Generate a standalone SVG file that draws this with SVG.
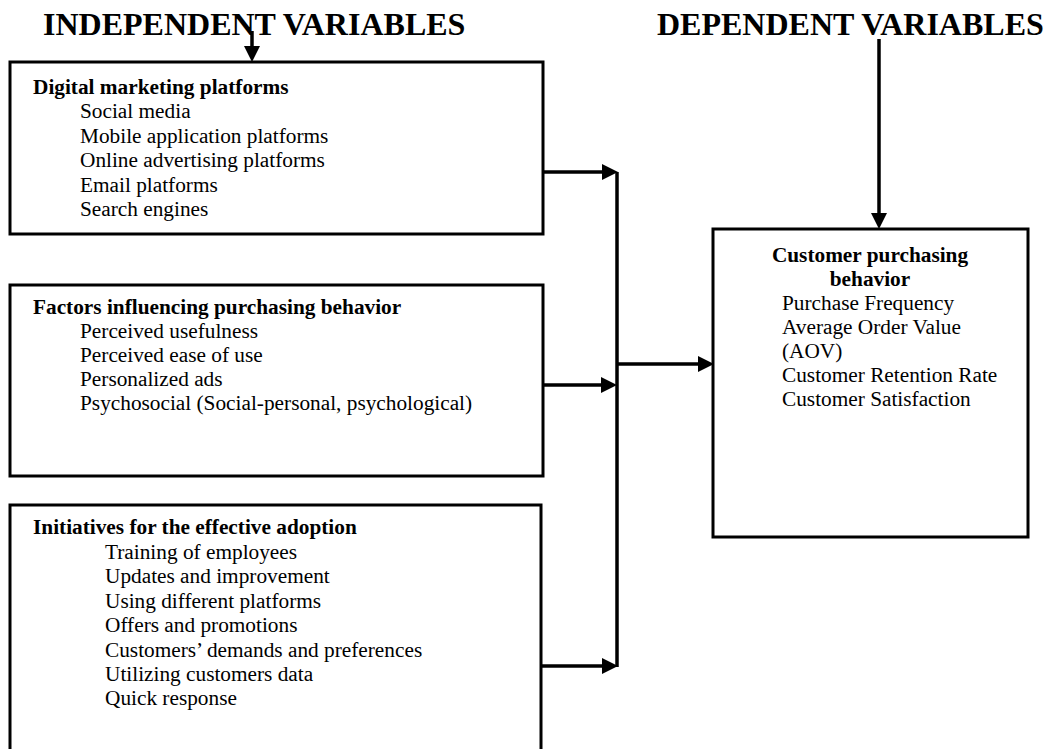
<svg xmlns="http://www.w3.org/2000/svg" width="1055" height="749" viewBox="0 0 1055 749">
<style>
  .box { fill: #ffffff; stroke: #000000; stroke-width: 3; }
  .title { font-family: "Liberation Serif", "Times New Roman", serif; font-size: 32px; font-weight: bold; fill: #000; }
  .head { font-family: "Liberation Serif", "Times New Roman", serif; font-size: 21.3px; font-weight: bold; fill: #000; }
  .item { font-family: "Liberation Serif", "Times New Roman", serif; font-size: 21.3px; fill: #000; }
  .conn { stroke: #000; stroke-width: 3.5; fill: none; }
</style>
<defs>
  <marker id="ah" markerUnits="userSpaceOnUse" markerWidth="18" markerHeight="18" refX="3" refY="8" orient="auto">
    <path d="M0,0 L16,8 L0,16 Z" fill="#000"/>
  </marker>
</defs>
<rect width="1055" height="749" fill="#ffffff"/>

<g id="titles">
  <text class="title" x="43" y="35">INDEPENDENT VARIABLES</text>
  <text class="title" x="657" y="35">DEPENDENT VARIABLES</text>
</g>

<g id="node-digital">
  <rect class="box" x="10" y="62" width="533" height="172"/>
  <text class="head" x="33" y="94">Digital marketing platforms</text>
  <text class="item" x="80" y="118">Social media</text>
  <text class="item" x="80" y="143">Mobile application platforms</text>
  <text class="item" x="80" y="167">Online advertising platforms</text>
  <text class="item" x="80" y="192">Email platforms</text>
  <text class="item" x="80" y="216">Search engines</text>
</g>

<g id="node-factors">
  <rect class="box" x="10" y="285" width="533" height="191"/>
  <text class="head" x="33" y="314">Factors influencing purchasing behavior</text>
  <text class="item" x="80" y="338">Perceived usefulness</text>
  <text class="item" x="80" y="362">Perceived ease of use</text>
  <text class="item" x="80" y="386">Personalized ads</text>
  <text class="item" x="80" y="410">Psychosocial (Social-personal, psychological)</text>
</g>

<g id="node-initiatives">
  <rect class="box" x="10" y="505" width="531" height="260"/>
  <text class="head" x="33" y="534">Initiatives for the effective adoption</text>
  <text class="item" x="105" y="559">Training of employees</text>
  <text class="item" x="105" y="583">Updates and improvement</text>
  <text class="item" x="105" y="608">Using different platforms</text>
  <text class="item" x="105" y="632">Offers and promotions</text>
  <text class="item" x="105" y="657">Customers’ demands and preferences</text>
  <text class="item" x="105" y="681">Utilizing customers data</text>
  <text class="item" x="105" y="705">Quick response</text>
</g>

<g id="node-customer">
  <rect class="box" x="713" y="229" width="315" height="308"/>
  <text class="head" x="870" y="262" text-anchor="middle">Customer purchasing</text>
  <text class="head" x="870" y="286" text-anchor="middle">behavior</text>
  <text class="item" x="782" y="310">Purchase Frequency</text>
  <text class="item" x="782" y="334">Average Order Value</text>
  <text class="item" x="782" y="358">(AOV)</text>
  <text class="item" x="782" y="382">Customer Retention Rate</text>
  <text class="item" x="782" y="406">Customer Satisfaction</text>
</g>

<g id="connectors">
  <line class="conn" x1="252" y1="31" x2="252" y2="49" marker-end="url(#ah)"/>
  <line class="conn" x1="879" y1="39" x2="879" y2="216" marker-end="url(#ah)"/>
  <line class="conn" x1="617" y1="172" x2="617" y2="667"/>
  <line class="conn" x1="543" y1="172" x2="605" y2="172" marker-end="url(#ah)"/>
  <line class="conn" x1="543" y1="385" x2="604" y2="385" marker-end="url(#ah)"/>
  <line class="conn" x1="541" y1="666" x2="605" y2="666" marker-end="url(#ah)"/>
  <line class="conn" x1="617" y1="364" x2="701" y2="364" marker-end="url(#ah)"/>
</g>
</svg>
